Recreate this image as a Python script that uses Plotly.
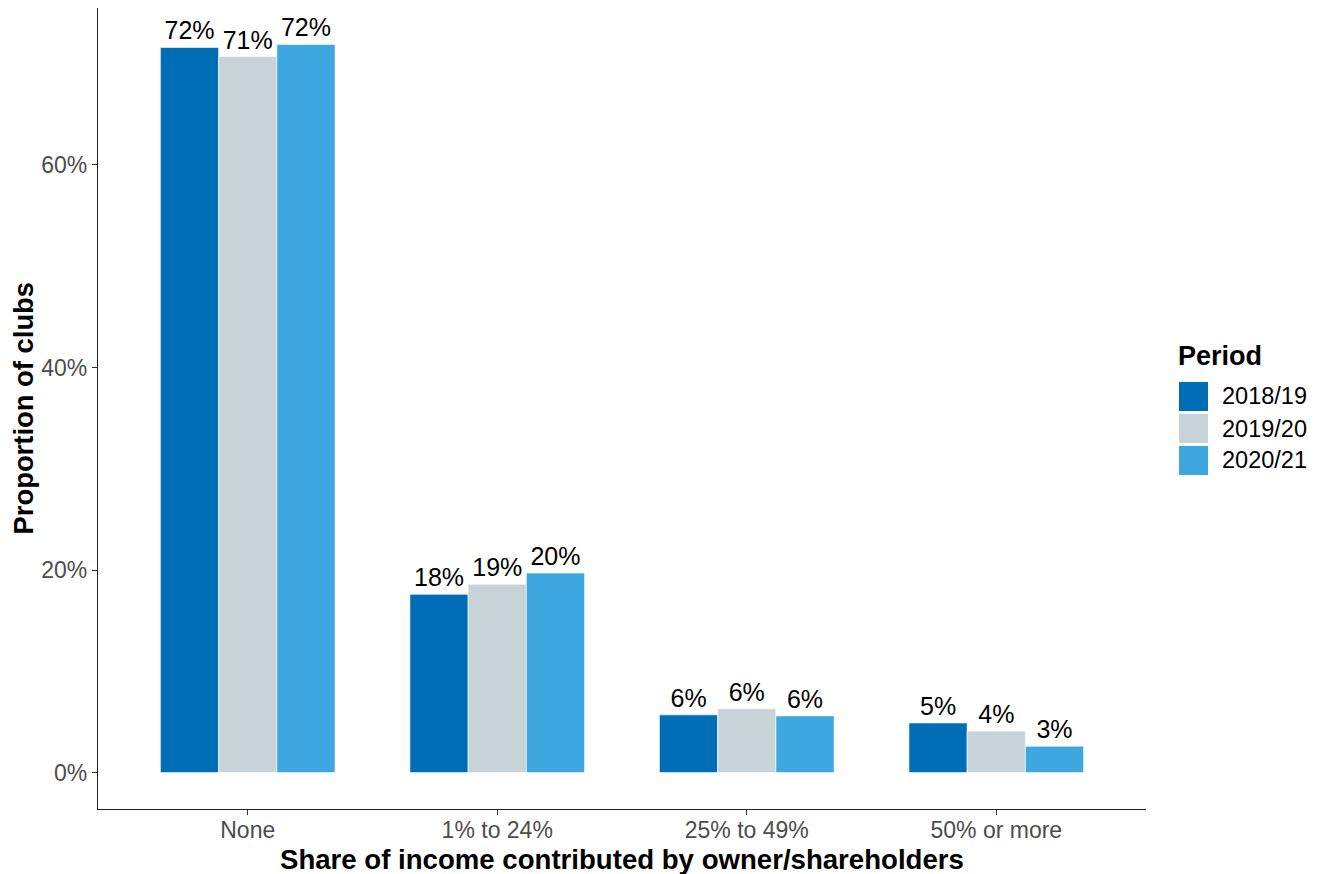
import plotly.graph_objects as go

# Share of income contributed by owner/shareholders, by season
categories = ["None", "1% to 24%", "25% to 49%", "50% or more"]
periods = ["2018/19", "2019/20", "2020/21"]
share_2018_19 = [0.716, 0.176, 0.057, 0.049]
share_2019_20 = [0.707, 0.186, 0.063, 0.041]
share_2020_21 = [0.719, 0.197, 0.056, 0.026]
period_colors = ["#006EB7", "#C8D3D8", "#3FA7DF"]

series = [share_2018_19, share_2019_20, share_2020_21]

FONT = "Liberation Sans, Arial, sans-serif"
W, H = 1322, 874
M_L, M_R, M_T, M_B = 98, 176, 8, 65
PLOT_W = W - M_L - M_R
PLOT_H = H - M_T - M_B


def px_x(px):
    return (px - M_L) / PLOT_W


def px_y(py):
    return (H - M_B - py) / PLOT_H


fig = go.Figure()
for name, vals, col in zip(periods, series, period_colors):
    fig.add_trace(go.Bar(
        x=categories,
        y=vals,
        name=name,
        marker=dict(color=col, line=dict(color="white", width=0.6)),
        texttemplate="%{y:.0%}",
        textposition="outside",
        textfont=dict(family=FONT, size=25, color="black"),
        cliponaxis=False,
        constraintext="none",
        showlegend=False,
    ))

ymax = max(max(s) for s in series)
pad = 0.05 * ymax

fig.update_layout(
    width=W,
    height=H,
    margin=dict(l=M_L, r=M_R, t=M_T, b=M_B, pad=0),
    paper_bgcolor="white",
    plot_bgcolor="white",
    barmode="group",
    bargap=0.3,
    bargroupgap=0,
    font=dict(family=FONT),
    xaxis=dict(
        range=[-0.6, len(categories) - 0.4],
        showline=True, linecolor="#222222", linewidth=1.3,
        ticks="outside", ticklen=5, tickcolor="#333333", tickwidth=1.1,
        ticklabelstandoff=-5,
        tickfont=dict(family=FONT, size=23, color="#4D4D4D"),
        showgrid=False, zeroline=False,
    ),
    yaxis=dict(
        range=[-pad, ymax + pad],
        tickvals=[0, 0.2, 0.4, 0.6],
        tickformat=".0%",
        showline=True, linecolor="#222222", linewidth=1.3,
        ticks="outside", ticklen=5, tickcolor="#333333", tickwidth=1.1,
        tickfont=dict(family=FONT, size=23, color="#4D4D4D"),
        showgrid=False, zeroline=False,
    ),
)

# Axis titles
fig.add_annotation(
    text="<b>Share of income contributed by owner/shareholders</b>",
    xref="paper", yref="paper", x=0.5, y=px_y(859),
    xanchor="center", yanchor="middle", showarrow=False,
    font=dict(family=FONT, size=27.6, color="black"),
)
fig.add_annotation(
    text="<b>Proportion of clubs</b>",
    xref="paper", yref="paper", x=px_x(23), y=0.5, textangle=-90,
    xanchor="center", yanchor="middle", showarrow=False,
    font=dict(family=FONT, size=27.4, color="black"),
)

# Legend: title plus colour keys
fig.add_annotation(
    text="<b>Period</b>",
    xref="paper", yref="paper", x=px_x(1176), y=px_y(356),
    xanchor="left", yanchor="middle", showarrow=False,
    font=dict(family=FONT, size=27, color="black"),
)
key_top, key_size, key_pitch = 382, 29, 32
for i, (name, col) in enumerate(zip(periods, period_colors)):
    top = key_top + i * key_pitch
    fig.add_shape(
        type="rect", xref="paper", yref="paper",
        x0=px_x(1179), x1=px_x(1179 + key_size),
        y0=px_y(top + key_size), y1=px_y(top),
        fillcolor=col, line=dict(width=0),
    )
    fig.add_annotation(
        text=name,
        xref="paper", yref="paper", x=px_x(1220), y=px_y(top + key_size / 2),
        xanchor="left", yanchor="middle", showarrow=False,
        font=dict(family=FONT, size=23.5, color="black"),
    )

fig.write_html("out.html")
